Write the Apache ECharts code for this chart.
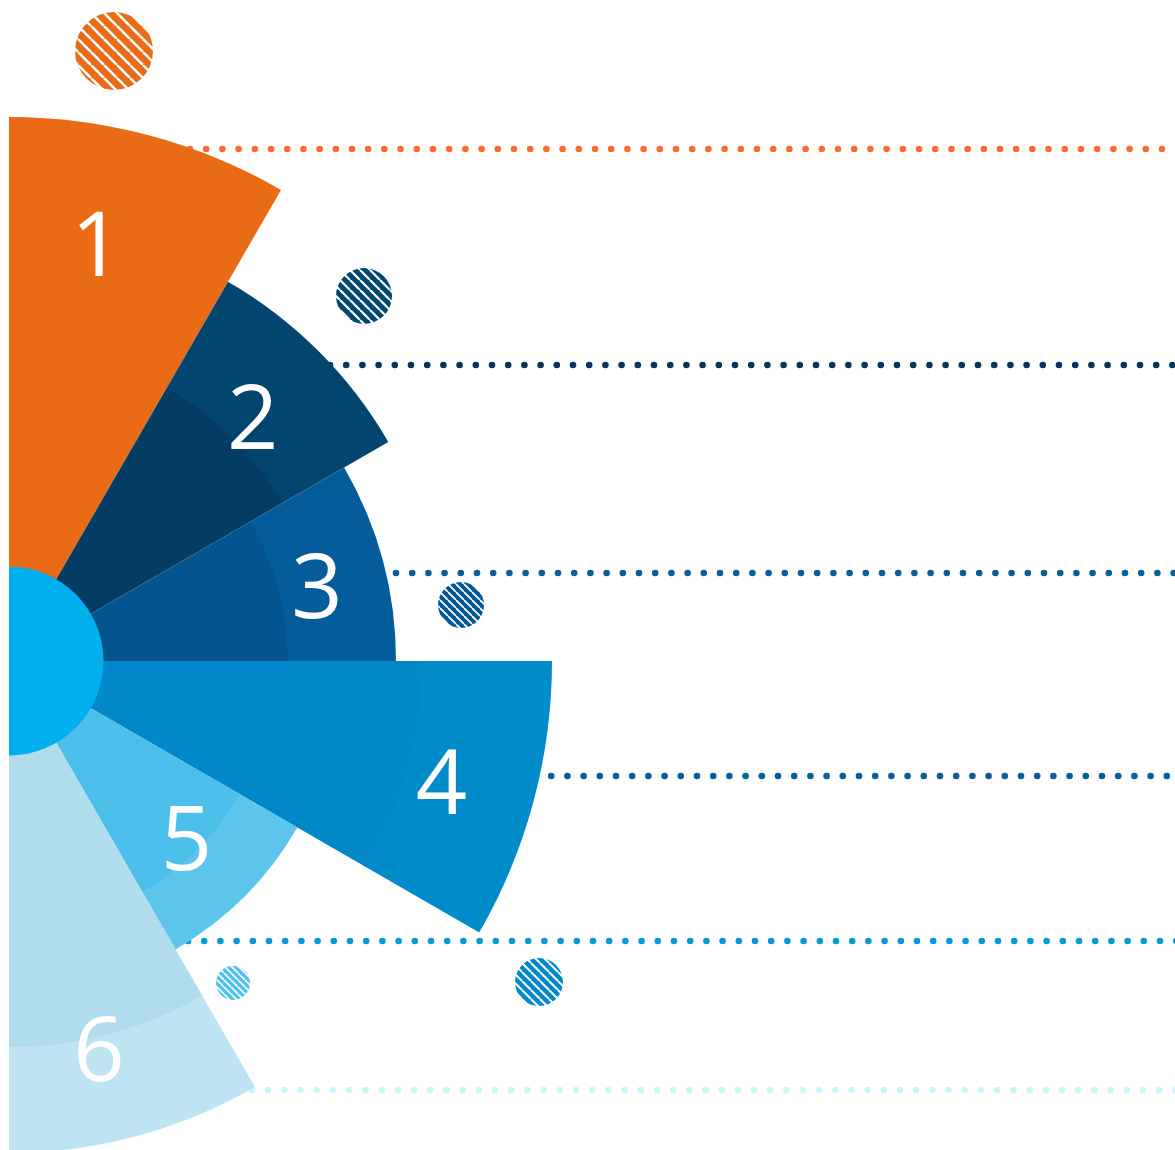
<!DOCTYPE html>
<html>
<head>
<meta charset="utf-8">
<script src="https://cdn.jsdelivr.net/npm/echarts@6/dist/echarts.min.js"></script>
<style>
  html, body { margin: 0; padding: 0; background: #ffffff; }
  #chart { width: 1175px; height: 1150px; }
</style>
</head>
<body>
<div id="chart"></div>
<script>
// ---- data ----
const categories = ['1', '2', '3', '4', '5', '6'];
const sectorValues = [544, 438, 387, 543, 333, 492];
const hubValue = 94.5;

// leader lines (overlay axis: x 0..1175, y 0..1150)
const leaderY = [149, 365, 573, 776, 941, 1090];
const leaderStartX = [190, 330, 396, 535, 188, 252];
const leaderEndX = [1178, 1178, 1178, 1178, 1178, 1178];

// hatched dots (overlay axis)
const dotX = [114, 364, 461, 539, 233];
const dotY = [51, 296, 605, 982, 983];
const dotDiameter = [78, 56, 46, 48, 34];

// ---- styles ----
const CENTER = [9, 661];
const sectorInner = ['#EA6B15', '#033D64', '#04558F', '#0088C8', '#4BBFEA', '#B0DCEE'];
const sectorOuter = ['#EA6B15', '#02466F', '#055C9A', '#008CCB', '#5DC5EC', '#BEE3F2'];
const sectorStep = [0.75, 0.72, 0.72, 0.76, 0.8, 0.785];
const labelNudge = [[-25, 10], [-4, 10], [9, 11], [13, 15], [-11, -5], [-12, 14]];
const leaderColors = ['#FA6A34', '#03355E', '#0A5F98', '#0A5E97', '#009DD0', '#C6F9FC'];
const dotColors = ['#EA6B15', '#02476F', '#045896', '#0089CA', '#4EC0EC'];
const dotTile = [13, 10, 8, 9, 7];
const dotStripe = [2.6, 2.2, 1.8, 2.0, 1.6];

function hatch(color, s, lw) {
  const c = document.createElement('canvas');
  c.width = s; c.height = s;
  const g = c.getContext('2d');
  g.fillStyle = color;
  g.fillRect(0, 0, s, s);
  g.strokeStyle = '#ffffff';
  g.lineWidth = lw;
  [-s, 0, s].forEach(function (o) {
    g.beginPath();
    g.moveTo(o, 0);
    g.lineTo(o + s, s);
    g.stroke();
  });
  return { image: c, repeat: 'repeat' };
}
const dotPatterns = dotColors.map(function (c, i) { return hatch(c, dotTile[i], dotStripe[i]); });

const chart = echarts.init(document.getElementById('chart'), null, { renderer: 'canvas' });

const sectorData = sectorValues.map(function (v, i) {
  return {
    value: v,
    itemStyle: {
      color: {
        type: 'radial', x: CENTER[0], y: CENTER[1], r: v, global: true,
        colorStops: [
          { offset: 0, color: sectorInner[i] },
          { offset: sectorStep[i], color: sectorInner[i] },
          { offset: sectorStep[i], color: sectorOuter[i] },
          { offset: 1, color: sectorOuter[i] }
        ]
      }
    }
  };
});

const labelData = sectorValues.map(function (v, i) {
  return { name: categories[i], value: [v * 0.8, i], label: { offset: labelNudge[i] } };
});

const series = [];

leaderY.forEach(function (y, i) {
  series.push({
    type: 'line',
    xAxisIndex: 0, yAxisIndex: 0,
    data: [[leaderStartX[i], y], [leaderEndX[i], y]],
    symbol: 'none',
    silent: true,
    clip: false,
    z: 1,
    lineStyle: { color: leaderColors[i], width: 6.6, type: [0, 16.2], cap: 'round' }
  });
});

series.push({
  type: 'bar',
  coordinateSystem: 'polar',
  data: sectorData,
  barCategoryGap: '0%',
  silent: true,
  z: 2
});

series.push({
  type: 'pie',
  center: CENTER,
  radius: [0, hubValue],
  startAngle: 90,
  endAngle: -90,
  silent: true,
  label: { show: false },
  labelLine: { show: false },
  data: [{ name: 'hub', value: 1, itemStyle: { color: '#00AFEB' } }],
  z: 3
});

series.push({
  type: 'scatter',
  coordinateSystem: 'polar',
  data: labelData,
  symbolSize: 1,
  silent: true,
  itemStyle: { color: 'rgba(0,0,0,0)' },
  label: {
    show: true,
    position: 'inside',
    formatter: '{b}',
    color: '#ffffff',
    opacity: 1,
    textBorderWidth: 0,
    fontFamily: 'Open Sans',
    fontWeight: 500,
    fontSize: 90
  },
  z: 4
});

series.push({
  type: 'custom',
  coordinateSystem: 'cartesian2d',
  xAxisIndex: 0, yAxisIndex: 0,
  silent: true,
  data: dotX.map(function (x, i) { return [x, dotY[i], dotDiameter[i], i]; }),
  renderItem: function (params, api) {
    const p = api.coord([api.value(0), api.value(1)]);
    return {
      type: 'circle',
      shape: { cx: p[0], cy: p[1], r: api.value(2) / 2 },
      style: { fill: dotPatterns[api.value(3)] }
    };
  },
  z: 4
});

chart.setOption({
  animation: false,
  backgroundColor: '#ffffff',
  grid: { left: 0, right: 0, top: 0, bottom: 0 },
  xAxis: { type: 'value', min: 0, max: 1175, show: false },
  yAxis: { type: 'value', min: 0, max: 1150, inverse: true, show: false },
  polar: { center: CENTER, radius: 600 },
  angleAxis: {
    type: 'category', data: categories, startAngle: 90, endAngle: -90,
    show: false, axisLine: { show: false }, splitLine: { show: false }
  },
  radiusAxis: {
    type: 'value', min: 0, max: 600, show: false,
    splitLine: { show: false }, axisLine: { show: false }
  },
  series: series
});
</script>
</body>
</html>
